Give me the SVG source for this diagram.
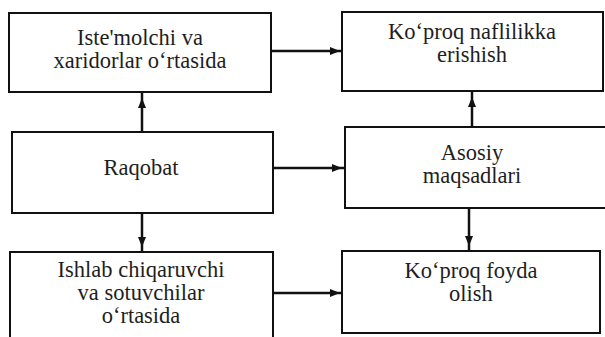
<svg xmlns="http://www.w3.org/2000/svg" width="605" height="337" viewBox="0 0 605 337">
<defs>
<style>
.box{fill:#fff;stroke:#111;stroke-width:2}
.lbl{font-family:'Liberation Serif','Times New Roman',serif;font-size:22.5px;fill:#1e1e1e;text-anchor:middle}
.con{fill:none;stroke:#111;stroke-width:2.5;marker-mid:url(#ah)}
</style>
<marker id="ah" viewBox="0 0 10 8" refX="10" refY="4" markerWidth="10" markerHeight="8" markerUnits="userSpaceOnUse" orient="auto">
<path d="M0,0 L10,4 L0,8 z" fill="#111"/>
</marker>
</defs>
<rect width="605" height="337" fill="#fff"/>
<g id="connectors">
<path class="con" d="M271,51 L340,51 L342,51"/>
<path class="con" d="M142,132 L142,98 L142,92"/>
<path class="con" d="M273,168 L342,168 L345,168"/>
<path class="con" d="M142,213 L142,247 L142,252"/>
<path class="con" d="M472,127 L472,97 L472,91"/>
<path class="con" d="M469,208 L469,246 L469,251"/>
<path class="con" d="M273,293 L340,293 L342,293"/>
</g>
<g id="n1"><rect class="box" x="9" y="13" width="262" height="79"/>
<text class="lbl" x="140" y="45">Iste'molchi va</text>
<text class="lbl" x="140" y="68">xaridorlar o‘rtasida</text></g>
<g id="n2"><rect class="box" x="342" y="12" width="261" height="79"/>
<text class="lbl" x="472" y="39">Ko‘proq naflilikka</text>
<text class="lbl" x="472" y="62">erishish</text></g>
<g id="n3"><rect class="box" x="12" y="132" width="261" height="81"/>
<text class="lbl" x="141" y="175">Raqobat</text></g>
<g id="n4"><rect class="box" x="345" y="127" width="270" height="81"/>
<text class="lbl" x="472" y="160">Asosiy</text>
<text class="lbl" x="472" y="183">maqsadlari</text></g>
<g id="n5"><rect class="box" x="10" y="252" width="263" height="100"/>
<text class="lbl" x="141" y="277">Ishlab chiqaruvchi</text>
<text class="lbl" x="141" y="300">va sotuvchilar</text>
<text class="lbl" x="141" y="323">o‘rtasida</text></g>
<g id="n6"><rect class="box" x="342" y="251" width="258" height="82"/>
<text class="lbl" x="471" y="278">Ko‘proq foyda</text>
<text class="lbl" x="471" y="301">olish</text></g>
</svg>
